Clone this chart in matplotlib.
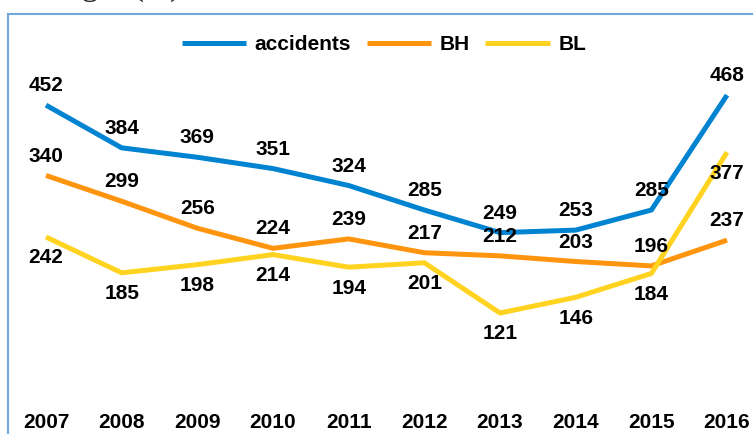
import matplotlib.pyplot as plt
from matplotlib.patches import Rectangle

years = ['2007', '2008', '2009', '2010', '2011', '2012', '2013', '2014', '2015', '2016']
accidents = [452, 384, 369, 351, 324, 285, 249, 253, 285, 468]
bh = [340, 299, 256, 224, 239, 217, 212, 203, 196, 237]
bl = [242, 185, 198, 214, 194, 201, 121, 146, 184, 377]

plt.rcParams['font.family'] = ['Liberation Sans', 'DejaVu Sans']

W, H = 753, 434
fig = plt.figure(figsize=(W / 100, H / 100), dpi=100)

# partially cropped caption from the page above the chart
fig.text(30 / W, 1 + 5 / H, 'Length (m)', family='Liberation Serif',
         fontsize=24, ha='left', va='baseline', color='#222222')

# light blue chart frame, cropped on the right and bottom
fig.patches.append(Rectangle((8 / W, -0.1), 1.2, 1.1 - 14 / H,
                             transform=fig.transFigure, fill=False,
                             edgecolor='#6fa8dc', linewidth=1.5))

ax = fig.add_axes([0, 45 / H, 1, 389 / H])
ax.patch.set_alpha(0)
x = list(range(len(years)))

ax.plot(x, accidents, color='#0084d1', lw=3.6, label='accidents',
        solid_capstyle='butt')
ax.plot(x, bh, color='#ff950e', lw=3.6, label='BH', solid_capstyle='butt')
ax.plot(x, bl, color='#ffd320', lw=3.6, label='BL', solid_capstyle='butt')

font = dict(fontsize=15, fontweight='bold', ha='center', va='center')
for xi, v in zip(x, accidents):
    ax.annotate(str(v), (xi, v), xytext=(0, 14), textcoords='offset points', **font)
for xi, v in zip(x, bh):
    ax.annotate(str(v), (xi, v), xytext=(0, 14), textcoords='offset points', **font)
for xi, v in zip(x, bl):
    ax.annotate(str(v), (xi, v), xytext=(0, -15), textcoords='offset points', **font)

ax.set_xlim(-46 / 75.67, (W - 46) / 75.67)
ax.set_ylim(0, 389 / 0.628)
ax.set_xticks(x)
ax.set_xticklabels(years, fontsize=15, fontweight='bold')
ax.tick_params(axis='x', length=0, pad=17)
ax.set_yticks([])
for s in ax.spines.values():
    s.set_visible(False)

leg = ax.legend(loc='center', bbox_to_anchor=(384 / W, 1 - 45 / 389), ncol=3,
                frameon=False, handlelength=3.1, columnspacing=0.75,
                handletextpad=0.4, prop=dict(size=15, weight='bold'))

fig.savefig('out.png', dpi=100)
